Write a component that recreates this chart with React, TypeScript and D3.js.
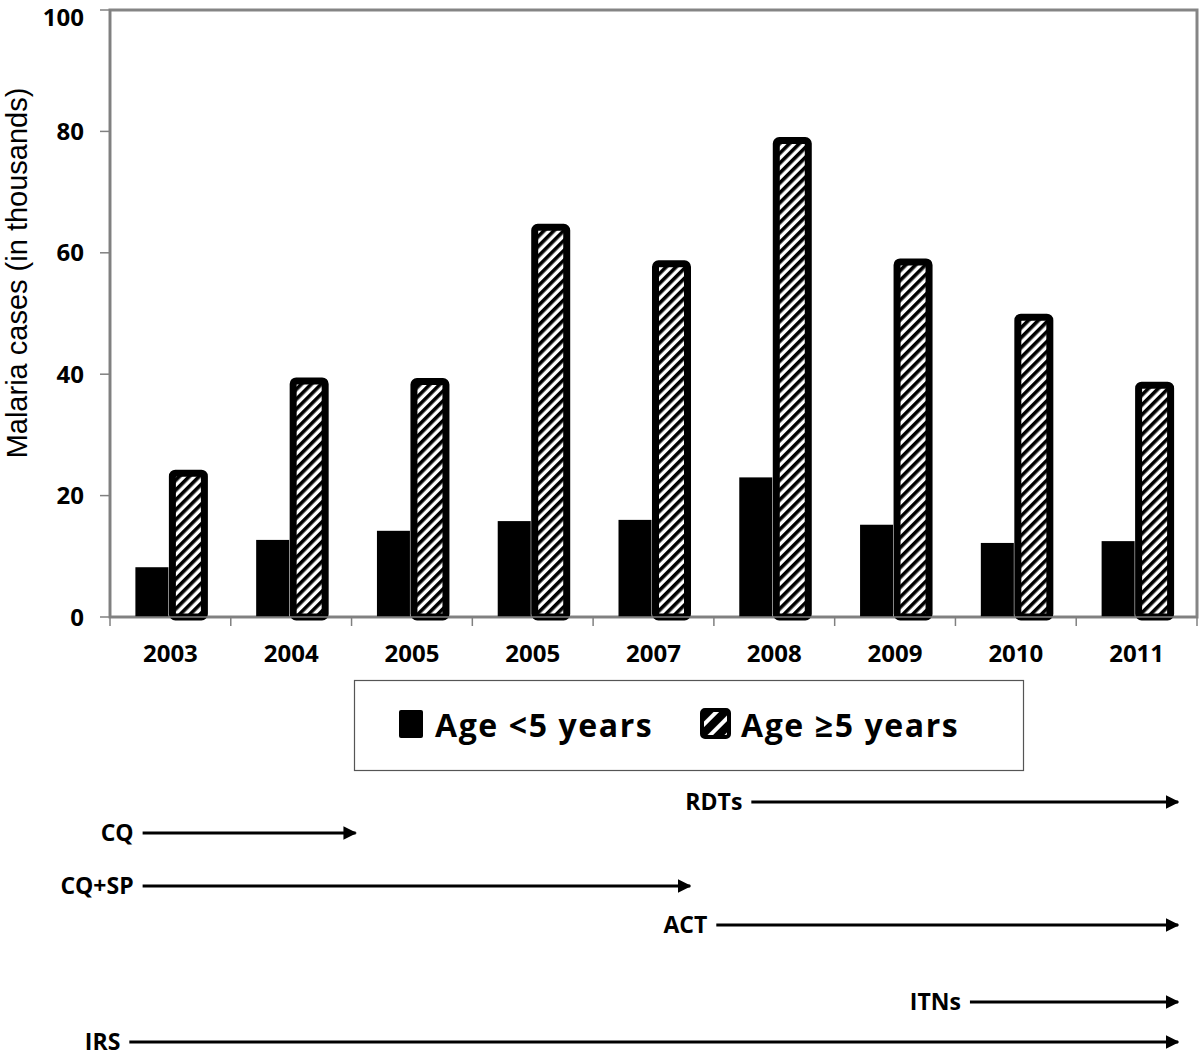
import React from "react";
import * as d3 from "d3";

const years = ["2003", "2004", "2005", "2005", "2007", "2008", "2009", "2010", "2011"];
const under5 = [8.2, 12.7, 14.2, 15.8, 16, 23, 15.2, 12.2, 12.5];
const over5 = [23.7, 38.9, 38.8, 64.2, 58.2, 78.5, 58.5, 49.4, 38.2];
const yTicks = [0, 20, 40, 60, 80, 100];
const seriesNames = ["Age <5 years", "Age \u22655 years"];

// interventions: start/end in category-index units along the year axis
const interventionLabels = ["RDTs", "CQ", "CQ+SP", "ACT", "ITNs", "IRS"];
const interventionStart = [5.31, 0.27, 0.27, 5.02, 7.12, 0.16];
const interventionEnd = [8.86, 2.05, 4.82, 8.86, 8.86, 8.86];
const interventionRow = [0, 1, 2, 3, 4, 5];

const W = 1200;
const H = 1058;
const M = { left: 110, right: 1197, top: 10, bottom: 617 };
const FONT = "'Open Sans', Lato, sans-serif";

export default function App() {
  const x = d3.scaleBand<number>().domain(d3.range(years.length)).range([M.left, M.right]);
  const bw = x.bandwidth();
  const y = d3.scaleLinear().domain([0, 100]).range([M.bottom, M.top]);
  const tl = d3.scaleLinear().domain([0, years.length]).range([M.left, M.right]);
  const rowY = d3.scaleOrdinal<number, number>().domain(interventionRow).range([802, 833, 886, 925, 1002, 1042]);

  const barW = 33;
  const hatchW = 32;

  return (
    <svg width={W} height={H} style={{ position: "absolute", left: 0, top: 0, background: "#fff" }} fontFamily={FONT}>
      <defs>
        <pattern id="hatch" patternUnits="userSpaceOnUse" width={7} height={7} patternTransform="rotate(45)">
          <rect x={0} y={0} width={7} height={7} fill="#fff" />
          <rect x={0} y={0} width={3.6} height={7} fill="#000" />
        </pattern>
        <pattern id="hatchBig" patternUnits="userSpaceOnUse" width={12} height={12} patternTransform="rotate(45)">
          <rect x={0} y={0} width={12} height={12} fill="#000" />
          <rect x={0} y={0} width={4} height={12} fill="#fff" />
        </pattern>
        <marker id="arrow" viewBox="0 0 10 10" refX={9} refY={5} markerWidth={4.5} markerHeight={4.5} orient="auto" markerUnits="strokeWidth">
          <path d="M0,0 L10,5 L0,10 z" fill="#000" />
        </marker>
      </defs>

      {/* plot frame */}
      <rect x={M.left} y={M.top} width={M.right - M.left} height={M.bottom - M.top} fill="none" stroke="#858585" strokeWidth={3} />
      <line x1={M.left} x2={M.left} y1={M.top} y2={M.bottom} stroke="#808080" strokeWidth={2} />

      {/* y ticks */}
      {yTicks.map((t) => (
        <g key={t}>
          <line x1={M.left - 10} x2={M.left} y1={y(t)} y2={y(t)} stroke="#808080" strokeWidth={1.5} />
          <text x={M.left - 26} y={Math.max(y(t), 17)} dy="0.36em" textAnchor="end" fontSize={24} fontWeight="bold" fill="#000">
            {t}
          </text>
        </g>
      ))}

      {/* x ticks at band boundaries */}
      {d3.range(years.length + 1).map((i) => (
        <line key={i} x1={tl(i)} x2={tl(i)} y1={M.bottom} y2={M.bottom + 9} stroke="#808080" strokeWidth={1.5} />
      ))}

      {/* bars */}
      {years.map((yr, i) => {
        const c = (x(i) as number) + bw / 2;
        return (
          <g key={i}>
            <rect x={c - 2 - barW} y={y(under5[i])} width={barW} height={y(0) - y(under5[i])} fill="#000" />
            <rect
              x={c + 2}
              y={y(over5[i])}
              width={hatchW}
              height={y(0) - y(over5[i])}
              fill="url(#hatch)"
              stroke="#000"
              strokeWidth={7}
              rx={3}
            />
            <text x={c} y={653} dy="0.36em" textAnchor="middle" fontSize={24} fontWeight="bold" fill="#000">
              {yr}
            </text>
          </g>
        );
      })}
      {/* axis line over bars */}
      <line x1={M.left} x2={M.right} y1={M.bottom} y2={M.bottom} stroke="#808080" strokeWidth={1.5} />

      {/* y label */}
      <text
        transform={`translate(27, 273) rotate(-90)`}
        textAnchor="middle"
        fontSize={29}
        fontFamily="'Liberation Sans', Arial, sans-serif"
        fill="#000"
      >
        Malaria cases (in thousands)
      </text>

      {/* legend */}
      <rect x={354.5} y={680.5} width={669} height={90} fill="#fff" stroke="#555" strokeWidth={1.2} />
      <rect x={399} y={710} width={24} height={28} rx={2} fill="#000" />
      <text x={435} y={737} fontSize={32} fontWeight="bold" letterSpacing={1.6} fill="#000">
        {seriesNames[0]}
      </text>
      <rect x={702} y={710} width={27} height={27} rx={3} fill="url(#hatchBig)" stroke="#000" strokeWidth={4} />
      <text x={741} y={737} fontSize={32} fontWeight="bold" letterSpacing={1.6} fill="#000">
        {seriesNames[1]}
      </text>

      {/* interventions */}
      {interventionLabels.map((lab, i) => {
        const x0 = tl(interventionStart[i]);
        const x1 = tl(interventionEnd[i]);
        const yy = rowY(interventionRow[i]);
        return (
          <g key={lab}>
            <text x={x0 - 9} y={yy} dy="0.36em" textAnchor="end" fontSize={23} fontWeight="bold" fill="#000">
              {lab}
            </text>
            <line x1={x0} x2={x1 - 2} y1={yy} y2={yy} stroke="#000" strokeWidth={3} markerEnd="url(#arrow)" />
          </g>
        );
      })}
    </svg>
  );
}
